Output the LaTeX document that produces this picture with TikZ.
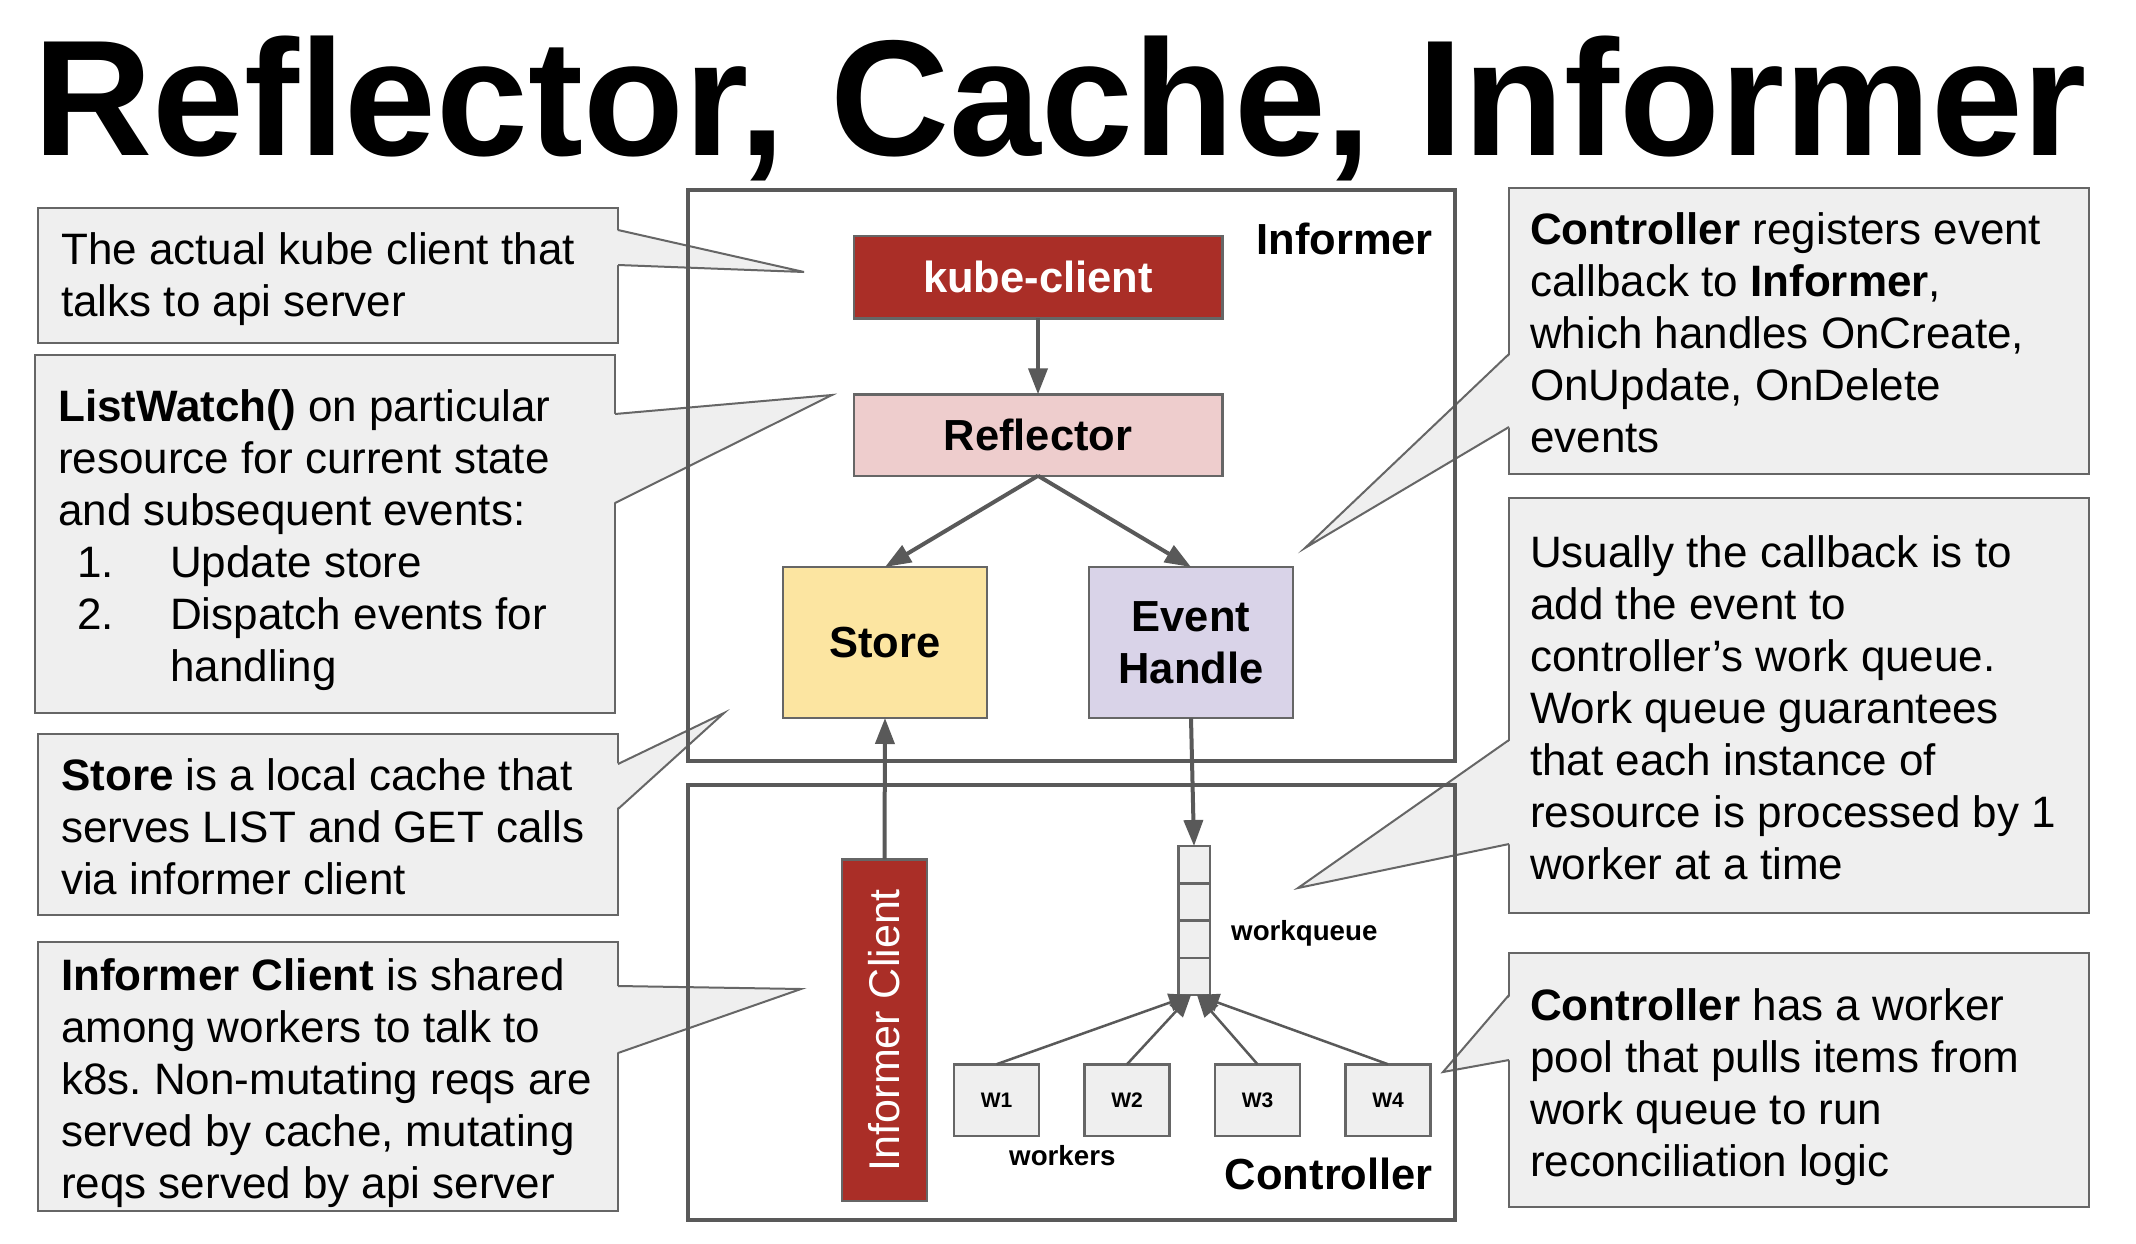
\documentclass[tikz,border=0pt]{standalone}
\usepackage{fontspec}
\setmainfont{Liberation Sans}
\usetikzlibrary{arrows.meta, positioning, calc}
\definecolor{framegray}{HTML}{595959}
\definecolor{edgegray}{HTML}{666666}
\definecolor{notefill}{HTML}{EFEFEF}
\definecolor{kubered}{HTML}{AA2E27}
\definecolor{reflpink}{HTML}{EECDCD}
\definecolor{storeyellow}{HTML}{FCE5A1}
\definecolor{eventpurple}{HTML}{D9D3E8}
\frenchspacing

\begin{document}
\begin{tikzpicture}[
    x=1pt, y=-1pt,
    note/.style={rectangle, draw=edgegray, fill=notefill, line width=2pt,
                 inner sep=0pt, outer sep=0pt, anchor=north west},
    notetext/.style={anchor=west, align=left, inner sep=0pt,
                     font=\fontsize{44}{52}\selectfont},
    tail/.style={fill=notefill},
    tailedge/.style={draw=edgegray, line width=2pt, line join=miter},
    frame/.style={rectangle, draw=framegray, line width=4.5pt, inner sep=0pt,
                  outer sep=0pt, anchor=north west},
    framelabel/.style={inner sep=0pt, font=\fontsize{43.5}{52}\selectfont\bfseries},
    block/.style={rectangle, draw=edgegray, line width=2.5pt, inner sep=0pt,
                  outer sep=0pt, align=center, font=\fontsize{43.5}{52}\selectfont\bfseries},
    cell/.style={rectangle, draw=edgegray, fill=notefill, line width=2.5pt,
                 inner sep=0pt, outer sep=0pt, minimum width=31.5, minimum height=37.25},
    worker/.style={rectangle, draw=edgegray, fill=notefill, line width=2.5pt,
                   inner sep=0pt, outer sep=0pt, minimum width=85, minimum height=71.5,
                   font=\fontsize{21}{25}\selectfont\bfseries},
    smalllabel/.style={inner sep=0pt, font=\fontsize{27.7}{33}\selectfont\bfseries},
    title/.style={inner sep=0pt, font=\fontsize{165}{190}\selectfont\bfseries},
    arrow/.style={draw=framegray, fill=framegray, line width=4pt,
                  -{Triangle[length=26pt, width=19pt]}},
    warrow/.style={draw=framegray, fill=framegray, line width=2.5pt,
                   -{Triangle[length=22pt, width=18pt]}}
]
    % Page
    \fill[white] (0,0) rectangle (2136,1244);
    \useasboundingbox (0,0) rectangle (2136,1244);

    % Title
    \node[title, anchor=base west] (title) at (33,155) {Reflector, Cache, Informer};

    % Left notes
    \node[note, minimum width=580, minimum height=135] (kubenote) at (38,208) {};
    \node[note, minimum width=580, minimum height=358] (watchnote) at (35,355) {};
    \node[note, minimum width=580, minimum height=181] (storenote) at (38,734) {};
    \node[note, minimum width=580, minimum height=269] (clientnote) at (38,942) {};

    % Right notes
    \node[note, minimum width=580, minimum height=286] (callbacknote) at (1509,188) {};
    \node[note, minimum width=580, minimum height=415] (queuenote) at (1509,498) {};
    \node[note, minimum width=580, minimum height=254] (poolnote) at (1509,953) {};

    % Pointer tips
    \coordinate (kubetip) at (804,272);
    \coordinate (watchtip) at (832,395);
    \coordinate (storetip) at (724,713);
    \coordinate (clienttip) at (801,989);
    \coordinate (callbacktip) at (1305,548);
    \coordinate (queuetip) at (1298,888);
    \coordinate (pooltip) at (1443,1072);

    % Pointers of the left notes
    \path[tail] ([shift={(-2,22)}]kubenote.north east) -- (kubetip) -- ([shift={(-2,57)}]kubenote.north east) -- cycle;
    \draw[tailedge] ([shift={(0,22)}]kubenote.north east) -- (kubetip) -- ([shift={(0,57)}]kubenote.north east);
    \path[tail] ([shift={(-2,59)}]watchnote.north east) -- (watchtip) -- ([shift={(-2,148)}]watchnote.north east) -- cycle;
    \draw[tailedge] ([shift={(0,59)}]watchnote.north east) -- (watchtip) -- ([shift={(0,148)}]watchnote.north east);
    \path[tail] ([shift={(-2,30)}]storenote.north east) -- (storetip) -- ([shift={(-2,75)}]storenote.north east) -- cycle;
    \draw[tailedge] ([shift={(0,30)}]storenote.north east) -- (storetip) -- ([shift={(0,75)}]storenote.north east);
    \path[tail] ([shift={(-2,44)}]clientnote.north east) -- (clienttip) -- ([shift={(-2,111)}]clientnote.north east) -- cycle;
    \draw[tailedge] ([shift={(0,44)}]clientnote.north east) -- (clienttip) -- ([shift={(0,111)}]clientnote.north east);

    % Pointers of the right notes
    \path[tail] ([shift={(2,166)}]callbacknote.north west) -- (callbacktip) -- ([shift={(2,239)}]callbacknote.north west) -- cycle;
    \draw[tailedge] ([shift={(0,166)}]callbacknote.north west) -- (callbacktip) -- ([shift={(0,239)}]callbacknote.north west);
    \path[tail] ([shift={(2,242)}]queuenote.north west) -- (queuetip) -- ([shift={(2,346)}]queuenote.north west) -- cycle;
    \draw[tailedge] ([shift={(0,242)}]queuenote.north west) -- (queuetip) -- ([shift={(0,346)}]queuenote.north west);
    \path[tail] ([shift={(2,42)}]poolnote.north west) -- (pooltip) -- ([shift={(2,107)}]poolnote.north west) -- cycle;
    \draw[tailedge] ([shift={(0,42)}]poolnote.north west) -- (pooltip) -- ([shift={(0,107)}]poolnote.north west);

    % Note texts
    \node[notetext] (kubetext) at ([shift={(23pt,-4pt)}]kubenote.west)
        {The actual kube client that\\talks to api server};
    \node[notetext] (watchtext) at ([shift={(23pt,-6pt)}]watchnote.west)
        {\textbf{ListWatch()} on particular\\resource for current state\\and subsequent events:\\
         \hspace*{19pt}\makebox[93pt][l]{1.}Update store\\
         \hspace*{19pt}\makebox[93pt][l]{2.}Dispatch events for\\
         \hspace*{112pt}handling};
    \node[notetext] (storetext) at ([shift={(23pt,-2pt)}]storenote.west)
        {\textbf{Store} is a local cache that\\serves LIST and GET calls\\via informer client};
    \node[notetext] (clienttext) at ([shift={(23pt,-7pt)}]clientnote.west)
        {\textbf{Informer Client} is shared\\among workers to talk to\\k8s. Non-mutating reqs are\\served by cache, mutating\\reqs served by api server};
    \node[notetext] (callbacktext) at ([shift={(21pt,-2pt)}]callbacknote.west)
        {\textbf{Controller} registers event\\callback to \textbf{Informer},\\which handles OnCreate,\\OnUpdate, OnDelete\\events};
    \node[notetext] (queuetext) at ([shift={(21pt,-2pt)}]queuenote.west)
        {Usually the callback is to\\add the event to\\controller’s work queue.\\Work queue guarantees\\that each instance of\\resource is processed by 1\\worker at a time};
    \node[notetext] (pooltext) at ([shift={(21pt,-7pt)}]poolnote.west)
        {\textbf{Controller} has a worker\\pool that pulls items from\\work queue to run\\reconciliation logic};

    % Frames
    \node[frame, minimum width=767, minimum height=571] (informer) at (688,190) {};
    \node[frame, minimum width=767, minimum height=435] (controller) at (688,785) {};
    \node[framelabel, anchor=base east] (informerlabel) at (1433,254) {Informer};
    \node[framelabel, anchor=base east] (controllerlabel) at (1433,1189) {Controller};

    % Informer parts
    \node[block, fill=kubered, text=white, minimum width=368.5, minimum height=82.5] (kube) at (1038,277) {kube-client};
    \node[block, fill=reflpink, minimum width=368.5, minimum height=81.5, below=76pt of kube] (reflector) {Reflector};
    \node[block, fill=storeyellow, minimum width=204, minimum height=151] (store) at (885,642.5) {Store};
    \node[block, fill=eventpurple, minimum width=204, minimum height=151, right=102pt of store] (event) {Event\\Handle};

    % Controller parts
    \node[block, fill=kubered, text=white, rotate=90, minimum width=341.5, minimum height=85,
          font=\fontsize{43}{52}\selectfont] (icl) at (884.5,1030) {Informer Client};
    \foreach \i in {1,...,4}
        \node[cell] (q\i) at (1194,{827.4+37.25*\i}) {};
    \node[smalllabel, anchor=base west] (wqlabel) at (1231,940) {workqueue};
    \foreach \i in {1,...,4}
        \node[worker] (w\i) at ({996.5+130.5*(\i-1)},1100) {W\i};
    \node[smalllabel, anchor=base west] (wklabel) at (1009,1165) {workers};

    % Arrows
    \draw[arrow] (kube) -- (reflector);
    \draw[arrow] (reflector.south) -- (store.north);
    \draw[arrow] (reflector.south) -- (event.north);
    \draw[arrow] (icl.east) -- (store.south);
    \draw[arrow] (event.south) -- (q1.north);
    \draw[warrow] (w1.north) -- ([xshift=-3pt]q4.south);
    \draw[warrow] (w2.north) -- ([xshift=-3pt]q4.south);
    \draw[warrow] (w3.north) -- ([xshift=3pt]q4.south);
    \draw[warrow] (w4.north) -- ([xshift=3pt]q4.south);

\end{tikzpicture}
\end{document}
